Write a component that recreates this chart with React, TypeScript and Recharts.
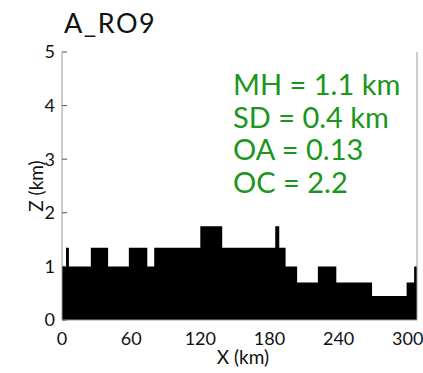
import { ComposedChart, Area, XAxis, YAxis } from "recharts";

// terrain profile: step edges (km along track) and height of each step (km)
const edgesKm = [0, 3.5, 6, 25, 40, 58, 74, 80, 120, 139, 185, 188.5, 194, 204, 222, 238, 269, 299, 305.5, 308];
const heightsKm = [1.0, 1.35, 1.0, 1.35, 1.0, 1.35, 1.0, 1.35, 1.75, 1.35, 1.75, 1.35, 1.0, 0.7, 1.0, 0.7, 0.45, 0.7, 1.0, 1.0];

const xTicks = [0, 60, 120, 180, 240, 300];
const xMajorTop = [0, 30, 60, 90, 120, 150, 180, 210, 240, 270, 300];
const xMinorTop = Array.from({ length: 52 }, (_, i) => i * 6);
const yTicks = [0, 1, 2, 3, 4, 5];

const title = "A_RO9";
const stats = ["MH = 1.1 km", "SD = 0.4 km", "OA = 0.13", "OC = 2.2"];

const FONT = "Lato, 'DejaVu Sans', sans-serif";
const GREEN = "#1a961a";
const FRAME = "#9a9a9a";

const data = edgesKm.map((x, i) => ({ x, z: heightsKm[i] }));

export default function App() {
  return (
    <div style={{ position: "absolute", left: 0, top: 0, background: "#fff" }}>
      <ComposedChart
        width={423}
        height={373}
        data={data}
        margin={{ top: 52, right: 0, bottom: 25, left: 0 }}
        style={{ fontFamily: FONT }}
      >
        <XAxis
          xAxisId="b"
          type="number"
          dataKey="x"
          domain={[0, 308]}
          allowDataOverflow
          ticks={xTicks}
          height={28}
          tickLine={false}
          tickSize={0}
          tickMargin={12}
          axisLine={{ stroke: FRAME }}
          tick={{ fill: "#111", fontSize: 18 }}
        />
        <XAxis
          xAxisId="t1"
          orientation="top"
          type="number"
          dataKey="x"
          domain={[0, 308]}
          allowDataOverflow
          ticks={xMinorTop}
          height={0}
          tickSize={-3}
          tick={false}
          tickLine={{ stroke: "#555" }}
          axisLine={{ stroke: "#000" }}
        />
        <XAxis
          xAxisId="t2"
          orientation="top"
          type="number"
          dataKey="x"
          domain={[0, 308]}
          allowDataOverflow
          ticks={xMajorTop}
          height={0}
          tickSize={-6}
          tick={false}
          tickLine={{ stroke: "#555" }}
          axisLine={false}
        />
        <YAxis
          yAxisId="l"
          type="number"
          domain={[0, 5]}
          ticks={yTicks}
          width={62}
          tickSize={-5}
          tickMargin={12}
          tickLine={{ stroke: "#555" }}
          axisLine={{ stroke: FRAME }}
          tick={{ fill: "#111", fontSize: 18 }}
        />
        <YAxis
          yAxisId="r"
          orientation="right"
          type="number"
          domain={[0, 5]}
          ticks={yTicks}
          width={6}
          tickSize={-5}
          tick={false}
          tickLine={{ stroke: "#555" }}
          axisLine={{ stroke: FRAME }}
        />
        <Area
          xAxisId="b"
          yAxisId="l"
          type="stepAfter"
          dataKey="z"
          stroke="none"
          fill="#000"
          fillOpacity={1}
          dot={false}
          activeDot={false}
          isAnimationActive={false}
        />
        {/* also bind the top axes so they get a domain */}
        <Area xAxisId="t1" yAxisId="r" dataKey="z" stroke="none" fill="none" isAnimationActive={false} />
        <Area xAxisId="t2" yAxisId="r" dataKey="z" stroke="none" fill="none" isAnimationActive={false} />
        <text x={64} y={33} fontSize={27} letterSpacing={1.5} fill="#111" fontFamily={FONT}>
          {title}
        </text>
        {stats.map((s, i) => (
          <text key={s} x={233} y={95 + i * 32.7} fontSize={29} fill={GREEN} fontFamily={FONT}>
            {s}
          </text>
        ))}
        <text x={243} y={364} fontSize={19} fill="#111" textAnchor="middle" fontFamily={FONT}>
          X (km)
        </text>
        <text
          x={0}
          y={0}
          fontSize={19}
          fill="#111"
          textAnchor="middle"
          fontFamily={FONT}
          transform="translate(43 186) rotate(-90)"
        >
          Z (km)
        </text>
      </ComposedChart>
    </div>
  );
}
